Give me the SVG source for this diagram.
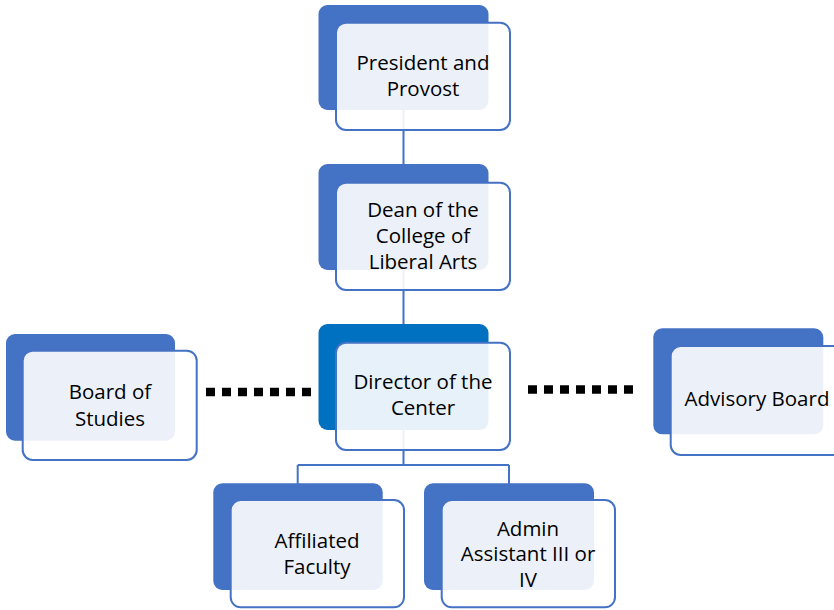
<svg xmlns="http://www.w3.org/2000/svg" width="834" height="610" viewBox="0 0 834 610">
<style>
.back{fill:#4472C4}
.back2{fill:#0070C0}
.front{fill:#FFFFFF;fill-opacity:0.9;stroke:#4472C4;stroke-width:2}
.lbl{font-family:"Open Sans","Liberation Sans",sans-serif;font-size:20.5px;fill:#000;text-anchor:middle}
.conn{fill:none;stroke:#4472C4;stroke-width:2}
.dots{fill:none;stroke:#000;stroke-width:8.5;stroke-dasharray:9 7}
</style>
<rect width="834" height="610" fill="#FFFFFF"/>
<g id="connectors">
<path class="conn" d="M403.5 60 V400"/>
<path class="conn" d="M403.5 400 V465 M297.7 465 H509 M297.7 465 V500 M509 465 V500"/>
<path class="dots" d="M206 392 H311"/>
<path class="dots" d="M528 389.5 H633"/>
</g>
<g id="president">
<rect class="back" x="318.5" y="5" width="170" height="105" rx="9"/>
<rect class="front" x="336" y="22.7" width="174" height="107.3" rx="10"/>
<text class="lbl" x="423" y="70">President and</text>
<text class="lbl" x="423" y="96">Provost</text>
</g>
<g id="dean">
<rect class="back" x="318.5" y="164" width="170" height="106" rx="9"/>
<rect class="front" x="336" y="182.7" width="174" height="107.3" rx="10"/>
<text class="lbl" x="423" y="217">Dean of the</text>
<text class="lbl" x="423" y="243">College of</text>
<text class="lbl" x="423" y="269">Liberal Arts</text>
</g>
<g id="director">
<rect class="back2" x="318.5" y="324" width="170" height="106" rx="9"/>
<rect class="front" x="336" y="342.7" width="174" height="107.3" rx="10"/>
<text class="lbl" x="423" y="389">Director of the</text>
<text class="lbl" x="423" y="415">Center</text>
</g>
<g id="board-of-studies">
<rect class="back" x="6" y="334" width="169" height="106.7" rx="9"/>
<rect class="front" x="22.7" y="350.7" width="174" height="109.3" rx="10"/>
<text class="lbl" x="110" y="399">Board of</text>
<text class="lbl" x="110" y="425.5">Studies</text>
</g>
<g id="advisory-board">
<rect class="back" x="653.3" y="328.3" width="170" height="106" rx="9"/>
<rect class="front" x="670.7" y="346" width="174" height="109" rx="10"/>
<text class="lbl" x="757" y="406">Advisory Board</text>
</g>
<g id="affiliated-faculty">
<rect class="back" x="213.3" y="483.3" width="169.4" height="106.7" rx="9"/>
<rect class="front" x="230.7" y="500" width="173.3" height="107.3" rx="10"/>
<text class="lbl" x="317" y="547.5">Affiliated</text>
<text class="lbl" x="317" y="573.5">Faculty</text>
</g>
<g id="admin-assistant">
<rect class="back" x="424" y="483.3" width="170" height="106.7" rx="9"/>
<rect class="front" x="441.7" y="500" width="173.3" height="107.3" rx="10"/>
<text class="lbl" x="528" y="535.5">Admin</text>
<text class="lbl" x="528" y="561">Assistant III or</text>
<text class="lbl" x="528" y="586.5">IV</text>
</g>
</svg>
